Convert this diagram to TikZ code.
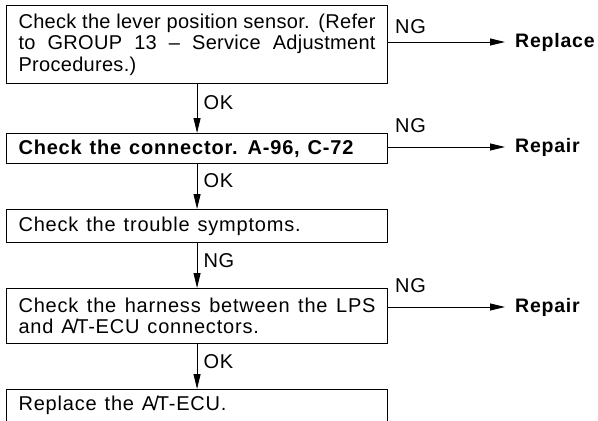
\documentclass[tikz,border=0pt]{standalone}
\usepackage{fontspec}
\setmainfont{Liberation Sans}[WordSpace=1.25, LetterSpace=4]
\usetikzlibrary{arrows.meta}
\newcommand{\AT}{A\kern-2pt/\kern-2pt T}
\begin{document}
\begin{tikzpicture}[x=1pt,y=-1pt,
  every node/.style={font=\fontsize{20}{21.5}\selectfont},
  box/.style={draw, line width=1.1pt, anchor=north west, text width=357pt,
    align=justify, inner xsep=12pt, inner ysep=0pt, minimum width=381pt},
  arr/.style={line width=0.9pt, -{Triangle[length=15pt,width=7pt]}},
  lab/.style={anchor=west, inner sep=1pt, xshift=5pt},
  nglab/.style={anchor=south west, inner sep=0pt},
  outc/.style={anchor=west, inner sep=0pt, font=\fontsize{19.5}{22}\selectfont\bfseries}]
\useasboundingbox (0,0) rectangle (598,421);
\node[box, minimum height=78pt, font=\fontsize{20}{21.5}\selectfont\addfontfeatures{LetterSpace=1.5}] (b1) at (6,5)
  {Check the lever position sensor. (Refer\linebreak to GROUP 13 – Service Adjustment\linebreak Procedures.)};
\node[box, minimum height=30pt, font=\fontsize{20}{21.5}\selectfont\bfseries] (b2) at (6,133)
  {Check the connector. A-96, C-72};
\node[box, minimum height=33pt] (b3) at (6,209)
  {Check the trouble symptoms.};
\node[box, minimum height=55pt] (b4) at (6,288)
  {Check the harness between the LPS\linebreak and \AT-ECU connectors.};
\node[box, minimum height=32pt] (b5) at (6,389)
  {Replace the \AT-ECU.};
% outcomes
\node[outc] (t1) at (515,42) {Replace};
\node[outc] (t2) at (515,147) {Repair};
\node[outc] (t4) at (515,307) {Repair};
% vertical arrows
\draw[arr] (b1.south) -- (b2.north) node[lab, pos=0.38] {OK};
\draw[arr] (b2.south) -- (b3.north) node[lab, pos=0.36] {OK};
\draw[arr] (b3.south) -- (b4.north) node[lab, pos=0.38] {NG};
\draw[arr] (b4.south) -- (b5.north) node[lab, pos=0.38] {OK};
% horizontal arrows
\draw[arr, shorten >=10pt] (b1.east |- t1.west) -- (t1.west);
\draw[arr, shorten >=10pt] (b2.east |- t2.west) -- (t2.west);
\draw[arr, shorten >=10pt] (b4.east |- t4.west) -- (t4.west);
\node[nglab] at (395,34) {NG};
\node[nglab] at (395,133) {NG};
\node[nglab] at (395,293) {NG};
\end{tikzpicture}
\end{document}
